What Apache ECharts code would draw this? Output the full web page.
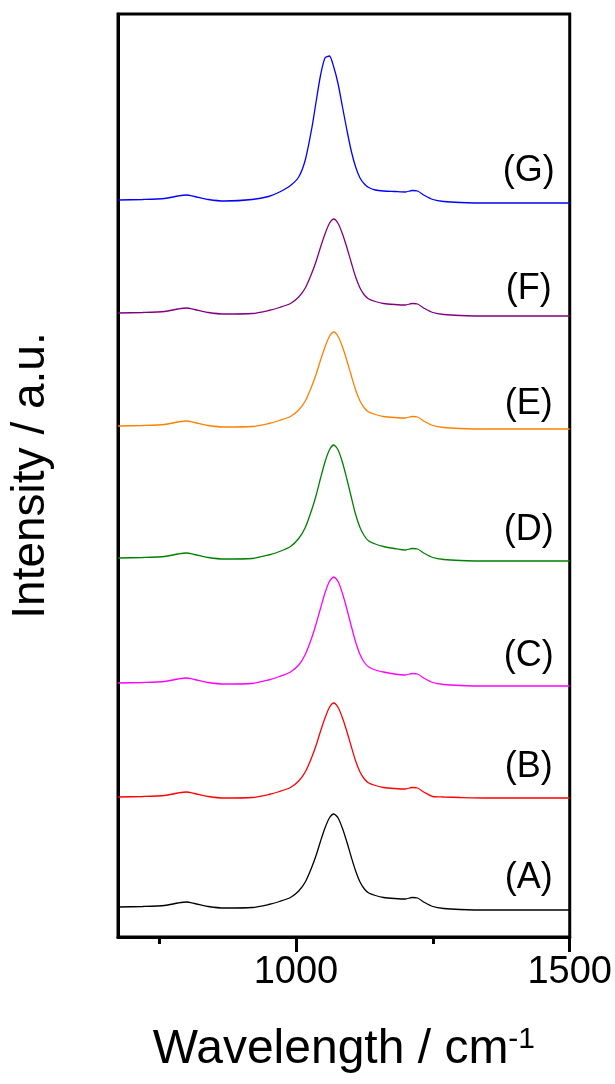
<!DOCTYPE html>
<html>
<head>
<meta charset="utf-8">
<script src="https://cdn.jsdelivr.net/npm/echarts@6/dist/echarts.min.js"></script>
<style>
  html, body { margin: 0; padding: 0; background: #fff; }
  #chart { width: 615px; height: 1084px; }
</style>
</head>
<body>
<div id="chart"></div>
<script>
// wavenumber sampling (cm-1)
var wavenumbers = [675, 720, 760, 785, 800, 815, 840, 870, 920, 950, 970, 990, 1005, 1017, 1029, 1037, 1045, 1053, 1061, 1069, 1077, 1085, 1093, 1101, 1109, 1117, 1125, 1133, 1145, 1160, 1180, 1200, 1212, 1222, 1235, 1250, 1270, 1300, 1350, 1400, 1500];

// stacked spectra, offsets included (a.u.)
var specA = [30, 30.5, 31.5, 34, 35, 33.5, 30.5, 29, 29.5, 32.5, 35.5, 39.5, 46, 55, 70, 82, 96, 109, 119, 123, 119, 108.5, 95, 80, 66, 55, 48, 44, 41.5, 39.5, 38.5, 38, 39.5, 39, 34.5, 30.5, 28.5, 27.5, 27, 27, 27];
var specB = [140, 140.5, 141.5, 144, 145, 143.5, 140.5, 139, 139.5, 142.5, 145.5, 149.5, 156, 165, 180, 192, 206, 219, 229.5, 234, 229.5, 219, 205.5, 190.5, 176, 165, 158, 154, 151.5, 149.5, 148.5, 148, 149.5, 149, 144.5, 140.5, 140, 139.5, 139, 139, 139];
var specC = [254, 254.5, 255.5, 258, 259, 257.5, 254.5, 253, 253.5, 257, 260.5, 265, 272, 282.5, 299.5, 313.5, 329, 344, 355.5, 360, 355.5, 343.5, 328, 311, 295, 282.5, 274.5, 270, 267, 265, 263, 262, 263.5, 263, 258.5, 254.5, 252.5, 251.5, 251, 251, 251];
var specD = [379, 379.5, 380.5, 383, 384, 382.5, 379.5, 378, 378.5, 382, 385.5, 390.5, 398.5, 409.5, 427.5, 442, 459, 475, 487, 492, 487, 474.5, 458, 440, 422.5, 409.5, 401, 396, 393, 390.5, 388.5, 387, 388.5, 388, 383.5, 379.5, 377.5, 376.5, 376, 376, 376];
var specE = [511, 511.5, 512.5, 515, 516, 514.5, 511.5, 510, 510.5, 513.5, 516.5, 520.5, 527, 536, 551, 563, 577, 590, 600.5, 605, 600.5, 590, 576.5, 561.5, 547, 536, 529, 525, 522.5, 520.5, 519.5, 519, 520.5, 520, 515.5, 511.5, 509.5, 508.5, 508, 508, 508];
var specF = [624, 624.5, 625.5, 628, 629, 627.5, 624.5, 623, 623.5, 626.5, 629.5, 633.5, 640, 649, 664, 676, 690, 703, 713.5, 718, 713.5, 703, 689.5, 674.5, 660, 649, 642, 638, 635.5, 633.5, 632.5, 632, 633.5, 633, 628.5, 624.5, 622.5, 621.5, 621, 621, 621];
var specG = [737, 737.5, 738.5, 741, 742, 740.5, 737.5, 736, 737.5, 740.5, 745, 751.5, 760, 777, 809, 836, 862, 879, 881, 870, 853, 830, 807, 786, 770, 759, 753, 749.5, 747, 746, 745.5, 745, 746.5, 746, 741.5, 737.5, 735.5, 734.5, 734, 734, 734];

var sampleNames = ['(A)', '(B)', '(C)', '(D)', '(E)', '(F)', '(G)'];
var sampleColors = ['#000000', '#ff0000', '#ff00ff', '#008000', '#ff8000', '#800080', '#0000ff'];
var labelPosY = [59, 170, 281, 407, 533, 648, 766];
var majorTicks = [1000, 1500];
var minorTicks = [750, 1250];

var spectra = [specA, specB, specC, specD, specE, specF, specG];
var FONT = 'Liberation Sans, Arial, sans-serif';

var myChart = echarts.init(document.getElementById('chart'));

var series = spectra.map(function (spec, i) {
  return {
    name: sampleNames[i],
    type: 'line',
    data: wavenumbers.map(function (w, j) { return [w, spec[j]]; }),
    smooth: 0.25,
    symbol: 'none',
    lineStyle: { color: sampleColors[i], width: 1.3 },
    markPoint: {
      symbol: 'circle',
      symbolSize: 0,
      label: {
        show: true,
        formatter: sampleNames[i],
        color: '#000',
        fontSize: 36,
        fontFamily: FONT
      },
      data: [{ coord: [1425, labelPosY[i]] }]
    }
  };
});

myChart.setOption({
  animation: false,
  grid: {
    left: 118,
    right: 42,
    top: 14,
    bottom: 147,
    show: true,
    borderColor: '#000',
    borderWidth: 3
  },
  xAxis: [
    {
      type: 'value',
      min: 675,
      max: 1500,
      position: 'bottom',
      name: 'Wavelength / cm{sup|-1}',
      nameLocation: 'middle',
      nameGap: 88,
      nameTextStyle: {
        fontSize: 48,
        color: '#000',
        fontFamily: FONT,
        rich: {
          sup: { fontSize: 30, color: '#000', fontFamily: FONT, verticalAlign: 'bottom', padding: [0, 0, 20, 0] }
        }
      },
      axisLine: { show: true, lineStyle: { color: '#000', width: 3 } },
      axisTick: { show: true, length: 15, lineStyle: { color: '#000', width: 3 }, customValues: majorTicks },
      axisLabel: {
        show: true,
        customValues: majorTicks,
        margin: 17,
        fontSize: 38,
        color: '#000',
        fontFamily: FONT,
        formatter: function (v) { return String(v); }
      },
      splitLine: { show: false }
    },
    {
      type: 'value',
      min: 675,
      max: 1500,
      position: 'bottom',
      axisLine: { show: false },
      axisTick: { show: true, length: 7, lineStyle: { color: '#000', width: 3 }, customValues: minorTicks },
      axisLabel: { show: false },
      splitLine: { show: false }
    }
  ],
  yAxis: {
    type: 'value',
    min: 0,
    max: 923,
    name: 'Intensity / a.u.',
    nameLocation: 'middle',
    nameGap: 64,
    nameTextStyle: {
      fontSize: 46,
      color: '#000',
      fontFamily: FONT
    },
    axisLine: { show: true, lineStyle: { color: '#000', width: 3 } },
    axisTick: { show: false },
    axisLabel: { show: false },
    splitLine: { show: false }
  },
  series: series
});
</script>
</body>
</html>
